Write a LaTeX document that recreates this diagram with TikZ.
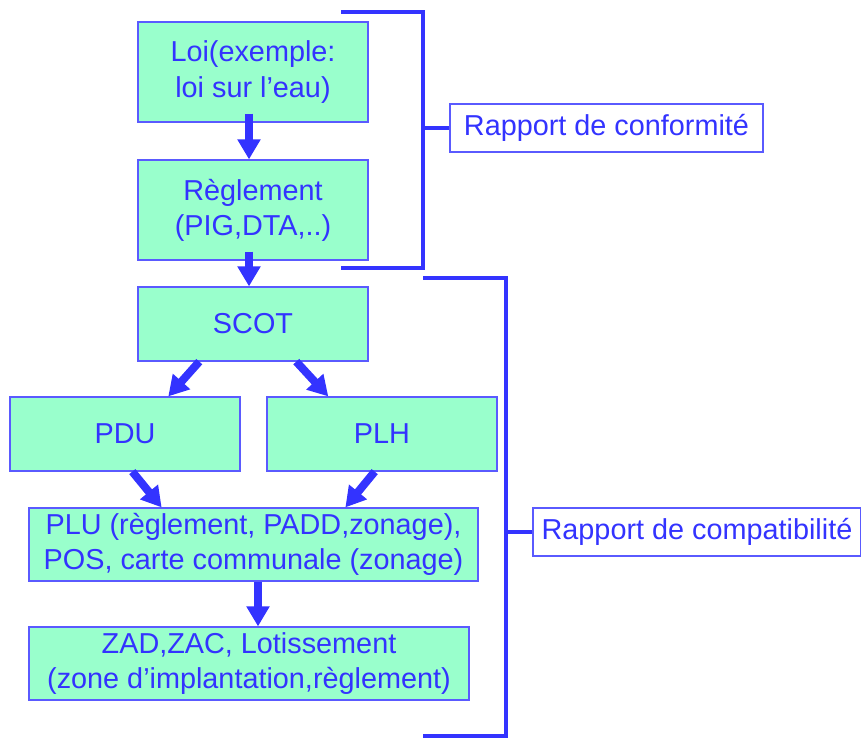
\documentclass[tikz,border=0pt]{standalone}
\usepackage{fontspec}
\setmainfont{Liberation Sans}
\usepackage{tikz}
\usetikzlibrary{arrows.meta}

\definecolor{txtblue}{RGB}{51,51,255}
\definecolor{boxblue}{RGB}{90,90,255}
\definecolor{boxgreen}{RGB}{153,255,204}

\begin{document}
\begin{tikzpicture}
  [x=0.02cm,y=-0.02cm,
   every node/.style={rectangle,draw=boxblue,line width=0.7pt,text=txtblue,align=center,
     font=\fontsize{16.4}{20}\selectfont,inner sep=0pt},
   box/.style={fill=boxgreen},
   arr/.style={draw=txtblue,line width=0.16cm,-{Triangle[width=0.44cm,length=0.4cm]}},
   brack/.style={draw=txtblue,line width=0.08cm,line join=miter}]
  \useasboundingbox (0,0) rectangle (861,738);

  \node [box,minimum width=4.6cm,minimum height=2cm] (loi) at (253,72) {Loi(exemple:\\ loi sur l’eau)};
  \node [box,minimum width=4.6cm,minimum height=2cm] (regl) at (253,210) {Règlement\\(PIG,DTA,..)};
  \node [box,minimum width=4.6cm,minimum height=1.48cm] (scot) at (253,324) {SCOT};
  \node [box,minimum width=4.6cm,minimum height=1.48cm] (pdu) at (125,434) {PDU};
  \node [box,minimum width=4.6cm,minimum height=1.48cm] (plh) at (382,434) {PLH};
  \node [box,minimum width=8.98cm,minimum height=1.46cm] (plu) at (253.5,544.5) {PLU (règlement, PADD,zonage),\\POS, carte communale (zonage)};
  \node [box,minimum width=8.8cm,minimum height=1.46cm] (zad) at (249,663.5) {ZAD,ZAC, Lotissement\\(zone d’implantation,règlement)};
  \node [minimum width=6.26cm,minimum height=0.96cm] (conf) at (606.5,128) {Rapport de conformité};
  \node [minimum width=6.56cm,minimum height=0.96cm] (compat) at (697,532) {Rapport de compatibilité};

  \foreach \from/\to in {loi/regl,regl/scot}
    \draw [arr] ([xshift=-0.08cm,yshift=0.18cm]\from.south) -- ([xshift=-0.08cm]\to.north);
  \foreach \from/\to in {scot.215/pdu.41,scot.319/plh.145,pdu.281/plu.158,plh.259/plu.22}
    \draw [arr] (\from) -- (\to);
  \draw [arr] ([xshift=0.09cm]plu.south) -- ([xshift=0.09cm]plu.south |- zad.north);

  % accolades
  \draw [brack] (341,12) -- (423,12) -- (423,268) -- (341,268);
  \draw [brack] (423,128) -- (conf.west);
  \draw [brack] (423,278) -- (506,278) -- (506,736) -- (423,736);
  \draw [brack] (506,532) -- (compat.west);

\end{tikzpicture}
\end{document}
